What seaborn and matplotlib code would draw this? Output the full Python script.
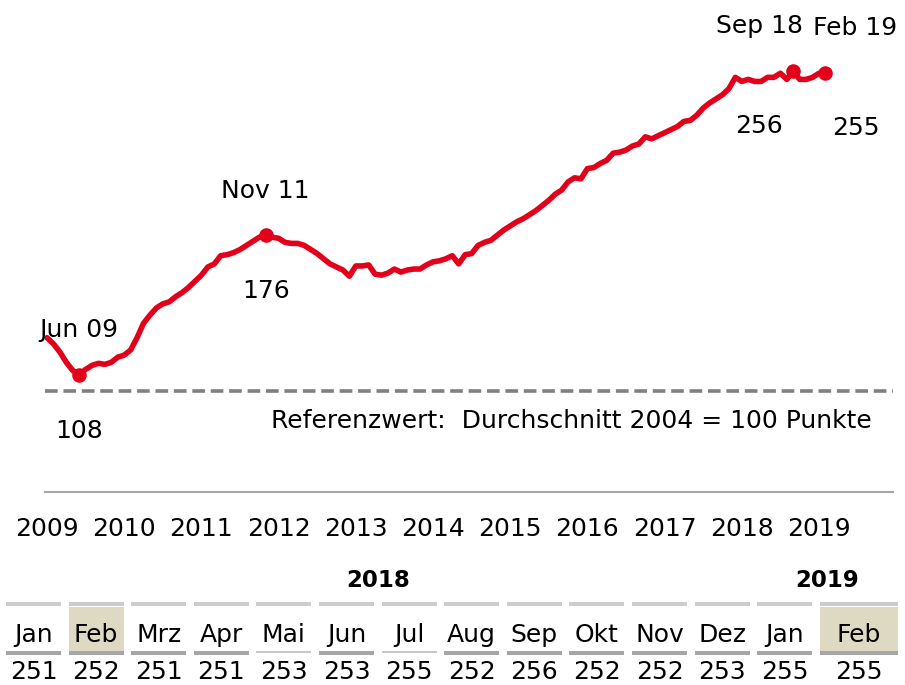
"""hauspreisindex 2009-2019 mit monatstabelle fuer 2018/2019."""

import matplotlib

matplotlib.use("Agg")
import matplotlib.pyplot as plt
import pandas as pd
import seaborn as sns
from matplotlib.patches import Rectangle

# monatswerte, index (durchschnitt 2004 = 100)
v2009 = [126, 123, 119, 114, 110, 108, 110.5, 112.5, 113.5, 113, 114, 116.5]
v2010 = [117.5, 120, 126, 133, 137, 140.5, 142.5, 143.5, 146, 148, 150.5, 153.5]
v2011 = [156.5, 160.5, 162, 166, 166.5, 167.5, 169, 171, 173, 175, 176, 175]
v2012 = [174.5, 172.5, 172, 172, 171, 169, 167, 164.5, 162, 160.5, 159, 156]
v2013 = [161, 161, 161.5, 157, 156.5, 157.5, 159.5, 158, 159, 159.5, 159.5, 161.5]
v2014 = [163, 163.5, 164.5, 166, 162, 166.5, 167, 171, 172.5, 173.5, 176, 178.5]
v2015 = [180.5, 182.5, 184, 186, 188, 190.5, 193, 196, 198, 202, 204, 203.5]
v2016 = [208.5, 209, 211, 212.5, 216, 216.5, 217.5, 219.5, 220.5, 224, 223, 224.5]
v2017 = [226, 227.5, 229, 231.5, 232, 234.5, 238, 240.5, 242.5, 244.5, 247.5, 253]
v2018 = [251, 252, 251, 251, 253, 253, 255, 252, 256, 252, 252, 253]
v2019 = [255, 255]

year_ticks = list(range(2009, 2020))
ref_value = 100
ref_text = "Referenzwert:  Durchschnitt 2004 = 100 Punkte"

# markierte punkte: (datum, beschriftung)
marked_dates = ["2009-06", "2011-11", "2018-09", "2019-02"]
marked_labels = ["Jun 09", "Nov 11", "Sep 18", "Feb 19"]
# versatz der beschriftungen in pixeln (dx, dy oben, dy unten)
marked_offsets = [(0, 38, -63), (0, 37, -63), (-34, 38, -62), (30, 38, -62)]

table_months = ["Jan", "Feb", "Mrz", "Apr", "Mai", "Jun", "Jul", "Aug",
                "Sep", "Okt", "Nov", "Dez", "Jan", "Feb"]
table_years = ["2018", "2019"]
table_highlight = [1, 13]
table_thin = [4, 6]

RED = "#e2001a"
FONT = ["DejaVu Sans"]
FS = 18

values = v2009 + v2010 + v2011 + v2012 + v2013 + v2014 + v2015 + v2016 + v2017 + v2018 + v2019
dates = pd.date_range("2009-01-01", periods=len(values), freq="MS")
df = pd.DataFrame({"datum": dates, "wert": values})
df["x"] = df["datum"].dt.year + (df["datum"].dt.month - 1) / 12

sns.set_theme(style="white")
plt.rcParams["font.family"] = FONT
plt.rcParams["text.color"] = "black"
plt.rcParams["xtick.color"] = "black"

W, H = 905, 685
fig = plt.figure(figsize=(W / 100, H / 100), dpi=100)

# hauptdiagramm
ax = fig.add_axes([45 / W, (H - 492) / H, 848 / W, 492 / H])
sns.lineplot(data=df, x="x", y="wert", ax=ax, color=RED, lw=4.0, solid_joinstyle="round")
ax.axhline(ref_value, color="#808080", lw=2.6, dashes=(3.5, 1.6), zorder=1)

ax.set_xlim(2009 - 2 / 77.2, 2009 + 846 / 77.2)
ax.set_ylim(100 - 101 / 2.05, 100 + 391 / 2.05)
ax.set_xticks(year_ticks)
ax.set_xticklabels([str(y) for y in year_ticks], fontsize=FS, color="black")
ax.set_yticks([])
ax.tick_params(axis="x", length=0, pad=18)
ax.set_xlabel("")
ax.set_ylabel("")
for side in ["top", "left", "right"]:
    ax.spines[side].set_visible(False)
ax.spines["bottom"].set_color("#a6a6a6")
ax.spines["bottom"].set_linewidth(1.5)

# referenztext, position in achsenkoordinaten aus pixeln
ax.text((872 - 45) / 848, (492 - 428) / 492, ref_text, transform=ax.transAxes,
        fontsize=FS, ha="right", va="baseline")

mk = df.set_index(df["datum"].dt.strftime("%Y-%m"))
for d, lab, (dx, dy_up, dy_dn) in zip(marked_dates, marked_labels, marked_offsets):
    px, py = mk.loc[d, "x"], mk.loc[d, "wert"]
    ax.scatter([px], [py], s=110, color=RED, zorder=5, linewidths=0)
    ax.annotate(lab, (px, py), xytext=(dx, dy_up), textcoords="offset pixels",
                ha="center", va="baseline", fontsize=FS)
    ax.annotate(f"{py:.0f}", (px, py), xytext=(dx, dy_dn), textcoords="offset pixels",
                ha="center", va="baseline", fontsize=FS)

# monatstabelle unten, in pixelkoordinaten
tab = fig.add_axes([0, 0, 1, 1])
tab.set_xlim(0, W)
tab.set_ylim(H, 0)
tab.axis("off")
tab.patch.set_alpha(0)

table_values = df["wert"].iloc[-len(table_months):].round().astype(int).tolist()
left0, pitch, cw = 6, 62.6, 55
for i, (mon, val) in enumerate(zip(table_months, table_values)):
    x0 = left0 + i * pitch
    w = cw if i < len(table_months) - 1 else 78
    xc = x0 + w / 2
    if i in table_highlight:
        tab.add_patch(Rectangle((x0, 607), w, 44, color="#ddd9c3", lw=0))
    tab.add_patch(Rectangle((x0, 602), w, 4, color="#cccccc", lw=0))
    if i in table_thin:
        tab.add_patch(Rectangle((x0, 651), w, 2, color="#c8c8c8", lw=0))
    else:
        tab.add_patch(Rectangle((x0, 651), w, 4, color="#a6a6a6", lw=0))
    tab.text(xc, 642, mon, ha="center", va="baseline", fontsize=FS)
    tab.text(xc, 679, str(val), ha="center", va="baseline", fontsize=FS)

n18 = 12
x18 = (left0 + left0 + (n18 - 1) * pitch + cw) / 2
x19 = (left0 + n18 * pitch + left0 + (len(table_months) - 1) * pitch + 78) / 2
tab.text(x18, 587, table_years[0], ha="center", va="baseline", fontsize=16.5, fontweight="bold")
tab.text(x19, 587, table_years[1], ha="center", va="baseline", fontsize=16.5, fontweight="bold")

fig.savefig("out.png", dpi=100)
plt.close(fig)
